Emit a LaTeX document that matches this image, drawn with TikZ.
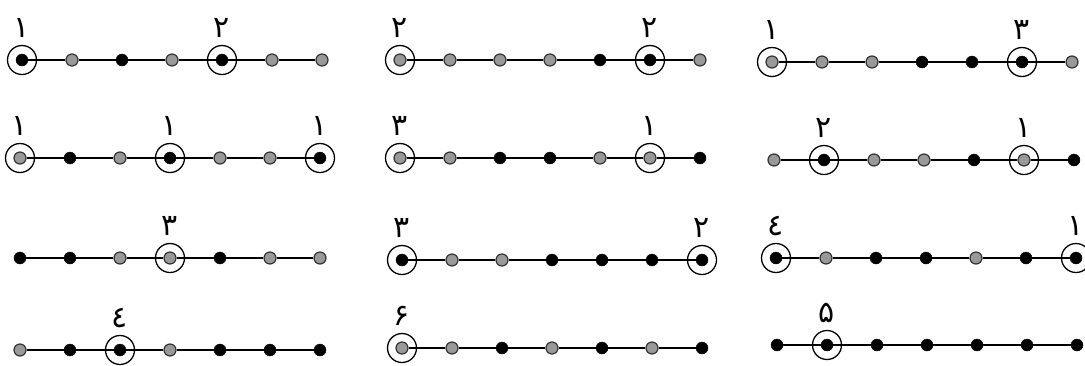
\documentclass[tikz,border=0pt]{standalone}
\usepackage{fontspec}
\newfontfamily\arabicfont[Script=Arabic]{DejaVu Sans}
\TeXXeTstate=1
\usetikzlibrary{positioning}

% one row of seven dots joined by a bar
\newcommand{\dotrow}[4]{%
  \foreach \c [count=\i] in {#4}
    \node[dot\c] (#1-\i) at ({#2+50*(\i-1)}, #3) {};
  \foreach \j [evaluate=\j as \k using int(\j+1)] in {1,...,6}
    \draw[bar] (#1-\j) -- (#1-\k);
}

\begin{document}
\begin{tikzpicture}[x=1pt, y=-1pt,
  dotb/.style={circle, draw=black, fill=black, inner sep=0pt, minimum size=12pt},
  dotg/.style={circle, draw=black!80, fill=black!40, line width=1.2pt, inner sep=0pt, minimum size=12pt},
  ring/.style={circle, draw, line width=1.3pt, inner sep=0pt, minimum size=29pt},
  num/.style={font=\arabicfont\fontsize{30}{30}\selectfont, inner sep=0pt},
  bar/.style={line width=2.2pt}
]
\useasboundingbox (0,0) rectangle (1085,365);

% first row
\dotrow{ra}{22}{60}{b,g,b,g,b,g,g}
\dotrow{rb}{400}{60}{g,g,g,g,b,b,g}
\dotrow{rc}{772}{62}{g,g,g,b,b,b,g}
\node[ring] (ra-r1) at (ra-1) {};
\node[ring] (ra-r5) at (ra-5) {};
\node[ring] (rb-r1) at (rb-1) {};
\node[ring] (rb-r6) at (rb-6) {};
\node[ring] (rc-r1) at (rc-1) {};
\node[ring] (rc-r6) at (rc-6) {};
\node[num, above=7pt of ra-r1] (ra-n1) {\beginR ١\endR};
\node[num, above=7pt of ra-r5] (ra-n5) {\beginR ٢\endR};
\node[num, above=7pt of rb-r1] (rb-n1) {\beginR ٢\endR};
\node[num, above=7pt of rb-r6] (rb-n6) {\beginR ٢\endR};
\node[num, above=7pt of rc-r1] (rc-n1) {\beginR ١\endR};
\node[num, above=7pt of rc-r6] (rc-n6) {\beginR ٣\endR};

% second row
\dotrow{sa}{20}{158}{g,b,g,b,g,g,b}
\dotrow{sb}{400}{158}{g,g,b,b,g,g,b}
\dotrow{sc}{774}{160}{g,b,g,g,b,g,b}
\node[ring] (sa-r1) at (sa-1) {};
\node[ring] (sa-r4) at (sa-4) {};
\node[ring] (sa-r7) at (sa-7) {};
\node[ring] (sb-r1) at (sb-1) {};
\node[ring] (sb-r6) at (sb-6) {};
\node[ring] (sc-r2) at (sc-2) {};
\node[ring] (sc-r6) at (sc-6) {};
\node[num, above=7pt of sa-r1] (sa-n1) {\beginR ١\endR};
\node[num, above=7pt of sa-r4] (sa-n4) {\beginR ١\endR};
\node[num, above=7pt of sa-r7] (sa-n7) {\beginR ١\endR};
\node[num, above=7pt of sb-r1] (sb-n1) {\beginR ٣\endR};
\node[num, above=7pt of sb-r6] (sb-n6) {\beginR ١\endR};
\node[num, above=7pt of sc-r2] (sc-n2) {\beginR ٢\endR};
\node[num, above=7pt of sc-r6] (sc-n6) {\beginR ١\endR};

% third row
\dotrow{ta}{20}{258}{b,b,g,g,b,g,g}
\dotrow{tb}{402}{260}{b,g,g,b,b,b,b}
\dotrow{tc}{776}{258}{b,g,b,b,g,b,b}
\node[ring] (ta-r4) at (ta-4) {};
\node[ring] (tb-r1) at (tb-1) {};
\node[ring] (tb-r7) at (tb-7) {};
\node[ring] (tc-r1) at (tc-1) {};
\node[ring] (tc-r7) at (tc-7) {};
\node[num, above=7pt of ta-r4] (ta-n4) {\beginR ٣\endR};
\node[num, above=7pt of tb-r1] (tb-n1) {\beginR ٣\endR};
\node[num, above=7pt of tb-r7] (tb-n7) {\beginR ٢\endR};
\node[num, above=7pt of tc-r1] (tc-n1) {\beginR ٤\endR};
\node[num, above=7pt of tc-r7] (tc-n7) {\beginR ١\endR};

% fourth row
\dotrow{ua}{20}{350}{g,b,b,g,b,b,b}
\dotrow{ub}{402}{348}{g,g,b,g,b,g,b}
\dotrow{uc}{777}{345}{b,b,b,b,b,b,b}
\node[ring] (ua-r3) at (ua-3) {};
\node[ring] (ub-r1) at (ub-1) {};
\node[ring] (uc-r2) at (uc-2) {};
\node[num, above=7pt of ua-r3] (ua-n3) {\beginR ٤\endR};
\node[num, above=7pt of ub-r1] (ub-n1) {\beginR ۶\endR};
\node[num, above=7pt of uc-r2] (uc-n2) {\beginR ۵\endR};
\end{tikzpicture}
\end{document}
